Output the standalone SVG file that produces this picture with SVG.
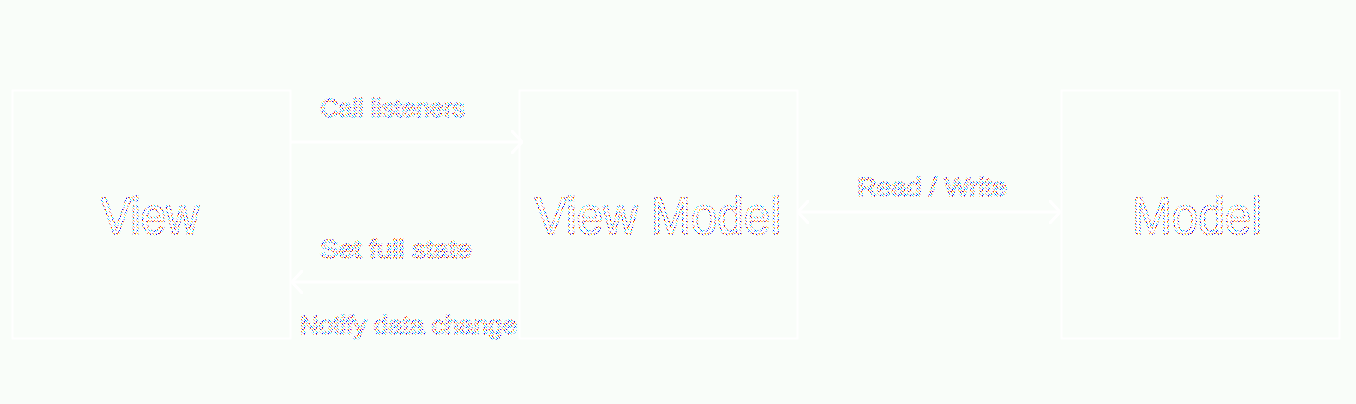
<svg xmlns="http://www.w3.org/2000/svg" width="1356" height="404" viewBox="0 0 1356 404">
  <defs>
    <pattern id="nz" width="6" height="6" patternUnits="userSpaceOnUse">
      <rect width="6" height="6" fill="#ffffff"/>
      <rect x="0" y="0" width="1" height="1" fill="#0000ff"/>
      <rect x="3" y="0" width="1" height="1" fill="#ffe600"/>
      <rect x="1" y="1" width="1" height="1" fill="#ff2a00"/>
      <rect x="4" y="1" width="1" height="1" fill="#00e5ff"/>
      <rect x="2" y="2" width="1" height="1" fill="#ffa0a0"/>
      <rect x="5" y="2" width="1" height="1" fill="#0030ff"/>
      <rect x="0" y="3" width="1" height="1" fill="#00e5ff"/>
      <rect x="3" y="3" width="1" height="1" fill="#c8c8ff"/>
      <rect x="1" y="4" width="1" height="1" fill="#ffa040"/>
      <rect x="4" y="4" width="1" height="1" fill="#ff2a00"/>
      <rect x="2" y="5" width="1" height="1" fill="#0000ff"/>
      <rect x="5" y="5" width="1" height="1" fill="#ffe600"/>
      <rect x="1" y="2" width="1" height="1" fill="#00e5ff"/>
      <rect x="4" y="3" width="1" height="1" fill="#0000ff"/>
      <rect x="0" y="5" width="1" height="1" fill="#ff8080"/>
      <rect x="3" y="5" width="1" height="1" fill="#ff2a00"/>
    </pattern>
    <marker id="ah" viewBox="0 0 12 24" refX="11" refY="12" markerWidth="12" markerHeight="24" markerUnits="userSpaceOnUse" orient="auto-start-reverse">
      <path d="M1,1 L11,12 L1,23" fill="none" stroke="#ffffff" stroke-width="3" stroke-linecap="round" stroke-linejoin="round"/>
    </marker>
  </defs>
  <style>
    .node { fill: none; stroke: #ffffff; stroke-width: 2; }
    .edge { fill: none; stroke: #ffffff; stroke-width: 3; }
    .big { font-family: "Liberation Sans", Arial, sans-serif; font-size: 51px; fill: #ffffff; stroke: url(#nz); stroke-width: 1.7; }
    .lbl { font-family: "Liberation Sans", Arial, sans-serif; font-size: 25px; fill: #ffffff; stroke: url(#nz); stroke-width: 1.4; }
  </style>
  <rect width="1356" height="404" fill="#f9fdf9"/>

  <g id="node-view">
    <rect class="node" x="12.5" y="90.5" width="278" height="248"/>
    <text class="big" x="101" y="234" textLength="98" lengthAdjust="spacingAndGlyphs">View</text>
  </g>
  <g id="node-viewmodel">
    <rect class="node" x="519.5" y="90.5" width="278" height="248"/>
    <text class="big" x="535" y="234" textLength="246" lengthAdjust="spacingAndGlyphs">View Model</text>
  </g>
  <g id="node-model">
    <rect class="node" x="1061.5" y="90.5" width="278" height="248"/>
    <text class="big" x="1132" y="234" textLength="130" lengthAdjust="spacingAndGlyphs">Model</text>
  </g>

  <g id="connectors">
    <line class="edge" x1="291" y1="142" x2="522" y2="142" marker-end="url(#ah)"/>
    <line class="edge" x1="519" y1="282" x2="292" y2="282" marker-end="url(#ah)"/>
    <line class="edge" x1="798" y1="212" x2="1060" y2="212" marker-start="url(#ah)" marker-end="url(#ah)"/>
  </g>

  <g id="labels">
    <text class="lbl" x="320" y="117" textLength="145" lengthAdjust="spacingAndGlyphs">Call listeners</text>
    <text class="lbl" x="320" y="258" textLength="152" lengthAdjust="spacingAndGlyphs">Set full state</text>
    <text class="lbl" x="300" y="334" textLength="217" lengthAdjust="spacingAndGlyphs">Notify data change</text>
    <text class="lbl" x="857" y="196" textLength="150" lengthAdjust="spacingAndGlyphs">Read / Write</text>
  </g>
</svg>
